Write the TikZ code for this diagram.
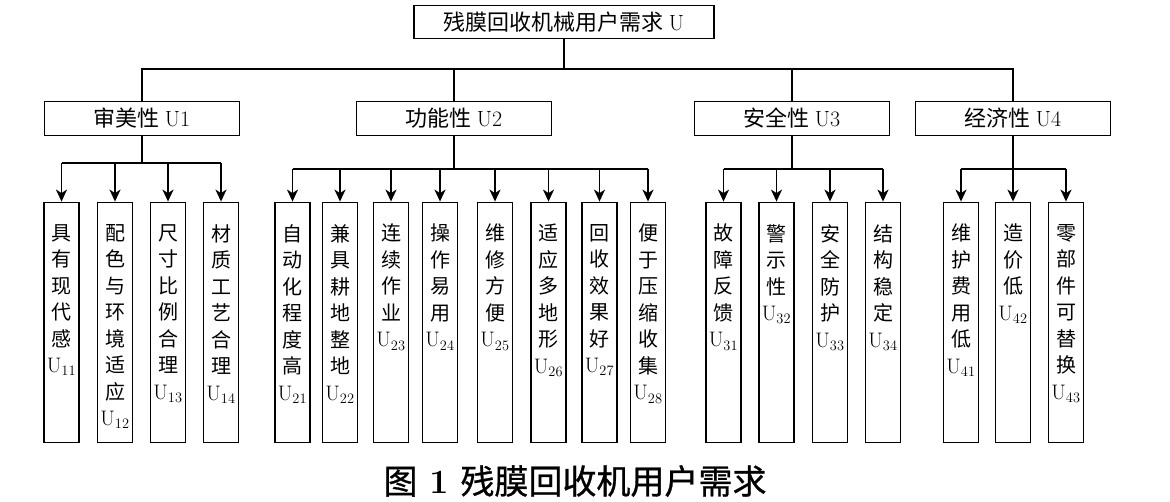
\documentclass[tikz,border=0pt]{standalone}
\usepackage{fontspec}
\newfontfamily\cjk{Noto Sans CJK SC}
\newfontfamily\cjkcap[FakeBold=0.8]{Noto Sans CJK SC}
\usetikzlibrary{arrows.meta}
\usetikzlibrary{positioning}

\tikzset{
  rootbox/.style={draw, line width=1.8pt, minimum width=300pt, minimum height=33pt, inner sep=0pt,
    font=\cjk\fontsize{22}{22}\selectfont},
  groupbox/.style={draw, line width=1.8pt, minimum width=195pt, minimum height=34pt, inner sep=0pt,
    font=\cjk\fontsize{22}{22}\selectfont},
  leafbox/.style={draw, line width=1.8pt, minimum width=35pt, minimum height=240pt, inner sep=0pt},
  leaftext/.style={anchor=north, inner sep=0pt, align=center, font=\cjk\fontsize{20}{26.5}\selectfont},
  link/.style={line width=1.8pt},
  arr/.style={line width=1.8pt, -{Stealth[length=12pt, width=11pt, inset=3.5pt]}}
}

\begin{document}
\begin{tikzpicture}[x=1pt, y=-1pt]
    \useasboundingbox (0,0) rectangle (1170,502);

    % Draw the root and the four groups
    \node[rootbox] (root) at (564,22) {残膜回收机械用户需求 {\rmfamily U}};
    \node[groupbox] (g1) at (142,118.5) {审美性 {\rmfamily U1}};
    \node[groupbox] (g2) at (454,118.5) {功能性 {\rmfamily U2}};
    \node[groupbox] (g3) at (792,118.5) {安全性 {\rmfamily U3}};
    \node[groupbox] (g4) at (1013,118.5) {经济性 {\rmfamily U4}};

    % Connect root to groups
    \coordinate (bus) at (564,69);
    \draw[link] (root.south) -- (bus);
    \draw[link] (g1.north) |- (bus) -| (g4.north);
    \draw[link] (g2.north) -- (g2.north |- bus);
    \draw[link] (g3.north) -- (g3.north |- bus);

    % Draw the leaves
    \foreach \x/\n/\txt in {61.5/11/具\\有\\现\\代\\感, 115/12/配\\色\\与\\环\\境\\适\\应, 168/13/尺\\寸\\比\\例\\合\\理, 221/14/材\\质\\工\\艺\\合\\理, 292.5/21/自\\动\\化\\程\\度\\高, 340/22/兼\\具\\耕\\地\\整\\地, 391/23/连\\续\\作\\业, 440/24/操\\作\\易\\用, 495/25/维\\修\\方\\便, 548.5/26/适\\应\\多\\地\\形, 599.5/27/回\\收\\效\\果\\好, 648/28/便\\于\\压\\缩\\收\\集, 723.5/31/故\\障\\反\\馈, 776.5/32/警\\示\\性, 830/33/安\\全\\防\\护, 883/34/结\\构\\稳\\定, 961/41/维\\护\\费\\用\\低, 1013/42/造\\价\\低, 1066/43/零\\部\\件\\可\\替\\换} {
        \node[leafbox] (l\n) at (\x,322.5) {};
        \node[leaftext] (t\n) at (\x,224) {\txt\\{\rmfamily\fontsize{21}{21}\selectfont U}$_{\n}$};
    }

    % Connect groups to leaves
    \foreach \g/\y/\fromleaf/\toleaf in {1/163/11/14, 2/169/21/28, 3/169/31/34, 4/169/41/43} {
        \coordinate (b\g) at (0,\y);
        \draw[link] (g\g.south) -- (g\g.south |- b\g);
        \draw[link] (l\fromleaf.north |- b\g) -- (l\toleaf.north |- b\g);
    }
    \foreach \l/\g in {11/1, 12/1, 13/1, 14/1, 21/2, 22/2, 23/2, 24/2, 25/2, 26/2, 27/2, 28/2, 31/3, 32/3, 33/3, 34/3, 41/4, 42/4, 43/4} {
        \draw[arr] (l\l.north |- b\g) -- (l\l.north);
    }

    % Caption
    \node (cap) at (575,481) {\cjkcap\fontsize{34}{34}\selectfont 图\hspace{0.35em}{\rmfamily\bfseries 1}\hspace{0.35em}残膜回收机用户需求};

\end{tikzpicture}
\end{document}
